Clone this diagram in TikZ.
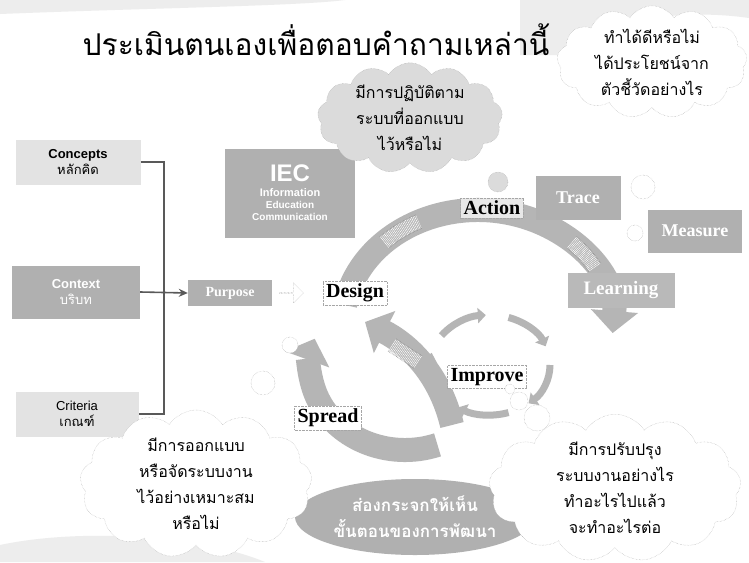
\documentclass[tikz,border=0pt]{standalone}
\usepackage{fontspec}
\setmainfont{Liberation Serif}
\newfontfamily\thai[Script=Thai]{Loma}
\newfontfamily\sansf{Liberation Sans}
\usetikzlibrary{shapes.symbols,shapes.arrows,shapes.geometric,arrows.meta}
\begin{document}
\begin{tikzpicture}[x=1pt,y=-1pt,
  lightbox/.style={fill=gray!22, inner sep=0pt, align=center, font=\sansf\fontsize{13}{16}\selectfont},
  darkbox/.style={fill=gray!62, text=white, inner sep=0pt, align=center},
  ringlabel/.style={draw=gray!70, densely dotted, fill=white, inner sep=3pt, font=\bfseries\fontsize{20}{22}\selectfont},
  band/.style={line width=24pt, gray!58},
  wseg/.style={gray, densely dotted, line width=0.6pt, double=white, double distance=14pt},
  tcloud/.style={cloud, cloud puffs=13, cloud puff arc=115, cloud ignores aspect, draw=gray!70, densely dotted, fill=white, align=center, inner sep=0pt, font=\thai\fontsize{16}{26}\selectfont},
  bubble/.style={circle, draw=gray!70, densely dotted, fill=white, inner sep=0pt},
  conn/.style={gray!70!black, line width=1.6pt},
  bigtip/.style={-{Triangle[width=46pt,length=22pt]}},
  smalltip/.style={-{Triangle[width=15pt,length=8pt]}}
]
\useasboundingbox (0,0) rectangle (749,562);
\fill[white] (0,0) rectangle (749,562);
% background texture
\fill[gray!14] (0,0) -- (345,0) .. controls (300,6) and (150,8) .. (0,14) -- cycle;
\fill[gray!14] (520,0) -- (749,0) -- (749,18) .. controls (680,8) and (600,20) .. (560,55) -- (520,55) -- cycle;
\fill[gray!14] (0,545) .. controls (80,528) and (200,535) .. (265,562) -- (0,562) -- cycle;

% title
\node[font=\thai\fontsize{30}{34}\selectfont] (title) at (316,40) {ประเมินตนเองเพื่อตอบคำถามเหล่านี้};

% ring bands
\coordinate (rc) at (478,325);
\draw[band, bigtip] (rc) ++(190:135 and 115) arc[start angle=190, end angle=364, x radius=135, y radius=115];
\draw[band, bigtip] (405,365) ++(70:95 and 85) arc[start angle=70, end angle=198, x radius=95, y radius=85];
\draw[band, bigtip] (452,425) .. controls (440,375) and (410,345) .. (365,322);
% white segments
\draw[wseg] (rc) ++(226:135 and 115) arc[start angle=226, end angle=244, x radius=135, y radius=115];
\draw[wseg] (rc) ++(314:135 and 115) arc[start angle=314, end angle=330, x radius=135, y radius=115];
\draw[wseg] (418,362) -- (392,345);
% inner improve ring of arrows
\foreach \a in {0,72,144,216,288}{
  \draw[gray!58, line width=7pt, smalltip] (490,365) ++(\a:60 and 50) arc[start angle=\a, end angle=\a+50, x radius=60, y radius=50];
}

% ring labels
\node[ringlabel] (design) at (355,293) {Design};
\node[ringlabel, fill=gray!18] (action) at (492,208) {Action};
\node[darkbox, minimum width=85pt, minimum height=44pt, font=\bfseries\fontsize{18}{20}\selectfont] (trace) at (578,198) {Trace};
\node[darkbox, minimum width=94pt, minimum height=43pt, font=\bfseries\fontsize{18}{20}\selectfont] (measure) at (695,231) {Measure};
\node[darkbox, fill=gray!55, minimum width=107pt, minimum height=35pt, font=\bfseries\fontsize{19}{21}\selectfont] (learning) at (621,290) {Learning};
\node[ringlabel] (improve) at (487,377) {Improve};
\node[ringlabel] (spread) at (328,418) {Spread};

% IEC
\node[darkbox, minimum width=130pt, minimum height=89pt, font=\sansf\bfseries] (iec) at (290,193)
  {\fontsize{24}{26}\selectfont IEC\\[3pt]\fontsize{11}{17}\selectfont Information\\ Education\\ Communication};

% left boxes
\node[lightbox, minimum width=125pt, minimum height=45pt] (concepts) at (78,162) {\textbf{Concepts}\\ {\thai\fontsize{13}{16}\selectfont หลักคิด}};
\node[lightbox, fill=gray!62, text=white, minimum width=128pt, minimum height=53pt] (context) at (76,292) {\textbf{Context}\\ {\thai\fontsize{13}{16}\selectfont บริบท}};
\node[lightbox, minimum width=123pt, minimum height=45pt] (criteria) at (77,414) {Criteria\\ {\thai\fontsize{13}{16}\selectfont เกณฑ์}};
\node[darkbox, minimum width=84pt, minimum height=26pt, font=\bfseries\fontsize{14}{16}\selectfont] (purpose) at (230,293) {Purpose};
\node[single arrow, draw=gray!70, densely dotted, fill=white, minimum height=24pt, minimum width=20pt, single arrow head extend=3pt, inner sep=0pt] (parrow) at (291,293) {};

\draw[conn] (concepts.east) -- ++(23,0) |- (criteria.east);
\draw[conn, -{Stealth[length=9pt,width=8pt]}] (context.east) -- (purpose.west);

% bottom ellipse
\node[ellipse, fill=gray!62, text=white, minimum width=240pt, minimum height=76pt, align=center, inner sep=0pt, font=\thai\bfseries\fontsize{17}{26}\selectfont] (mirror) at (415,517) {ส่องกระจกให้เห็น\\ ขั้นตอนของการพัฒนา};

% clouds
\node[tcloud, minimum width=190pt, minimum height=112pt] (cloudtr) at (652,62) {ทำได้ดีหรือไม่\\ ได้ประโยชน์จาก\\ ตัวชี้วัดอย่างไร};
\node[tcloud, fill=gray!28, minimum width=185pt, minimum height=102pt] (cloudtc) at (410,118) {มีการปฏิบัติตาม\\ ระบบที่ออกแบบ\\ ไว้หรือไม่};
\node[tcloud, minimum width=232pt, minimum height=148pt] (cloudbl) at (196,484) {มีการออกแบบ\\ หรือจัดระบบงาน\\ ไว้อย่างเหมาะสม\\ หรือไม่};
\node[tcloud, minimum width=252pt, minimum height=146pt] (cloudbr) at (615,488) {มีการปรับปรุง\\ ระบบงานอย่างไร\\ ทำอะไรไปแล้ว\\ จะทำอะไรต่อ};

% bubbles
\node[bubble, fill=gray!28, minimum size=20pt] (b1) at (498,182) {};
\node[bubble, minimum size=24pt] (b2) at (643,187) {};
\node[bubble, minimum size=16pt] (b3) at (635,233) {};
\node[bubble, minimum size=16pt] (b4) at (290,345) {};
\node[bubble, minimum size=24pt] (b5) at (263,383) {};
\node[bubble, minimum size=10pt] (b6) at (510,389) {};
\node[bubble, minimum size=18pt] (b7) at (519,401) {};
\node[bubble, minimum size=26pt] (b8) at (537,418) {};
\end{tikzpicture}
\end{document}
